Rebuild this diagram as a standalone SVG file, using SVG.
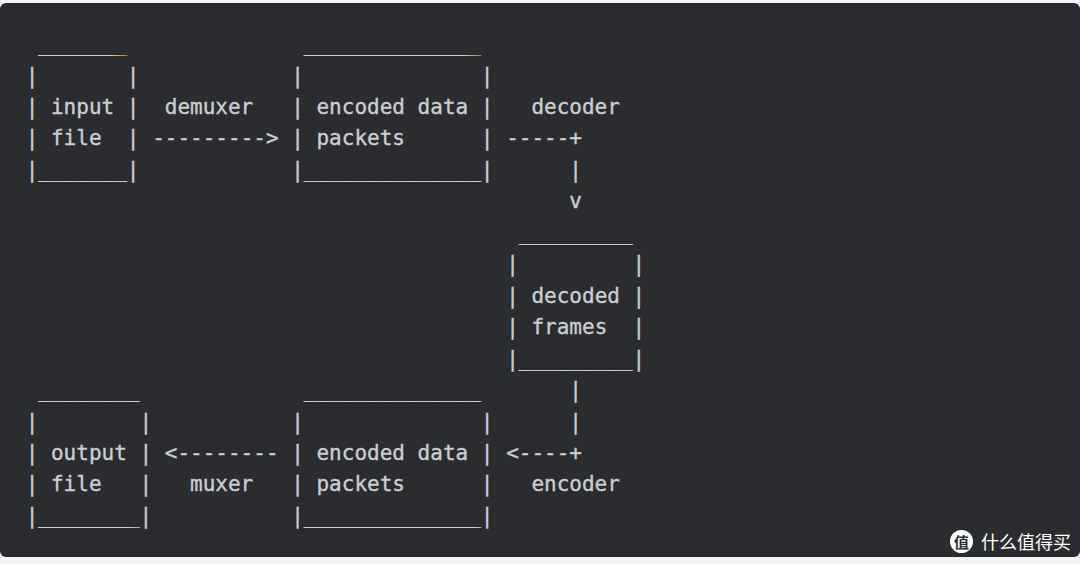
<svg xmlns="http://www.w3.org/2000/svg" width="1080" height="564" viewBox="0 0 1080 564">
  <style>
    .t { font-family: "DejaVu Sans Mono", "Liberation Mono", monospace; font-size: 21px; fill: #cbced4; stroke: #cbced4; stroke-width: 0.35px; white-space: pre; }
    .wm { font-family: "Noto Sans CJK SC", "Noto Sans", sans-serif; font-size: 18px; fill: #ffffff; }
  </style>
  <defs>
    <linearGradient id="ugS" x1="0" y1="0" x2="1" y2="0">
      <stop offset="0" stop-color="#cbced4"/>
      <stop offset="0.8" stop-color="#cbced4"/>
      <stop offset="1" stop-color="#c8733c"/>
    </linearGradient>
    <linearGradient id="ugL" x1="0" y1="0" x2="1" y2="0">
      <stop offset="0" stop-color="#cbced4"/>
      <stop offset="0.9" stop-color="#cbced4"/>
      <stop offset="1" stop-color="#c8733c"/>
    </linearGradient>
  </defs>
  <rect x="0" y="0" width="1080" height="564" fill="#f4f4f4"/>
  <rect x="0" y="3" width="1080" height="554" rx="6" fill="#2b2c30"/>

  <g id="input-file">
    <text class="t" x="38.34" y="51.1" style="fill:url(#ugS);stroke:url(#ugS)">_______</text>
    <text class="t" x="25.7" y="82.55" xml:space="preserve">|       |</text>
    <text class="t" x="25.7" y="114" xml:space="preserve">| input |</text>
    <text class="t" x="25.7" y="145.45" xml:space="preserve">| file  |</text>
    <text class="t" x="25.7" y="176.9" xml:space="preserve">|_______|</text>
  </g>

  <g id="encoded-packets-top">
    <text class="t" x="303.85" y="51.1" style="fill:url(#ugL);stroke:url(#ugL)">______________</text>
    <text class="t" x="291.2" y="82.55" xml:space="preserve">|              |</text>
    <text class="t" x="291.2" y="114" xml:space="preserve">| encoded data |</text>
    <text class="t" x="291.2" y="145.45" xml:space="preserve">| packets      |</text>
    <text class="t" x="291.2" y="176.9" xml:space="preserve">|______________|</text>
  </g>

  <g id="decoded-frames">
    <text class="t" x="518.78" y="239.8">_________</text>
    <text class="t" x="506.13" y="271.25" xml:space="preserve">|         |</text>
    <text class="t" x="506.13" y="302.7" xml:space="preserve">| decoded |</text>
    <text class="t" x="506.13" y="334.15" xml:space="preserve">| frames  |</text>
    <text class="t" x="506.13" y="365.6" xml:space="preserve">|<tspan style="fill:url(#ugL);stroke:url(#ugL)">_________</tspan>|</text>
  </g>

  <g id="output-file">
    <text class="t" x="38.34" y="397.05">________</text>
    <text class="t" x="25.7" y="428.5" xml:space="preserve">|        |</text>
    <text class="t" x="25.7" y="459.95" xml:space="preserve">| output |</text>
    <text class="t" x="25.7" y="491.4" xml:space="preserve">| file   |</text>
    <text class="t" x="25.7" y="522.85" xml:space="preserve">|<tspan style="fill:url(#ugS);stroke:url(#ugS)">________</tspan>|</text>
  </g>

  <g id="encoded-packets-bottom">
    <text class="t" x="303.85" y="397.05">______________</text>
    <text class="t" x="291.2" y="428.5" xml:space="preserve">|              |</text>
    <text class="t" x="291.2" y="459.95" xml:space="preserve">| encoded data |</text>
    <text class="t" x="291.2" y="491.4" xml:space="preserve">| packets      |</text>
    <text class="t" x="291.2" y="522.85" xml:space="preserve">|<tspan style="fill:url(#ugL);stroke:url(#ugL)">______________</tspan>|</text>
  </g>

  <g id="connectors">
    <g id="demuxer">
      <text class="t" x="164.77" y="114">demuxer</text>
      <text class="t" x="152.13" y="145.45">---------&gt;</text>
    </g>
    <g id="decoder">
      <text class="t" x="531.42" y="114">decoder</text>
      <text class="t" x="506.13" y="145.45">-----+</text>
      <text class="t" x="569.35" y="176.9">|</text>
      <text class="t" x="569.35" y="208.35">v</text>
    </g>
    <g id="encoder">
      <text class="t" x="569.35" y="397.05">|</text>
      <text class="t" x="569.35" y="428.5">|</text>
      <text class="t" x="506.13" y="459.95">&lt;----+</text>
      <text class="t" x="531.42" y="491.4">encoder</text>
    </g>
    <g id="muxer">
      <text class="t" x="164.77" y="459.95">&lt;--------</text>
      <text class="t" x="190.06" y="491.4">muxer</text>
    </g>
  </g>

  <g id="watermark">
    <circle cx="961.5" cy="541.5" r="11.5" fill="#ffffff"/>
    <text x="961.5" y="548" text-anchor="middle" font-family="Noto Sans CJK SC, sans-serif" font-size="15" font-weight="bold" fill="#2b2c30">值</text>
    <text class="wm" x="981" y="548.5">什么值得买</text>
  </g>
</svg>
